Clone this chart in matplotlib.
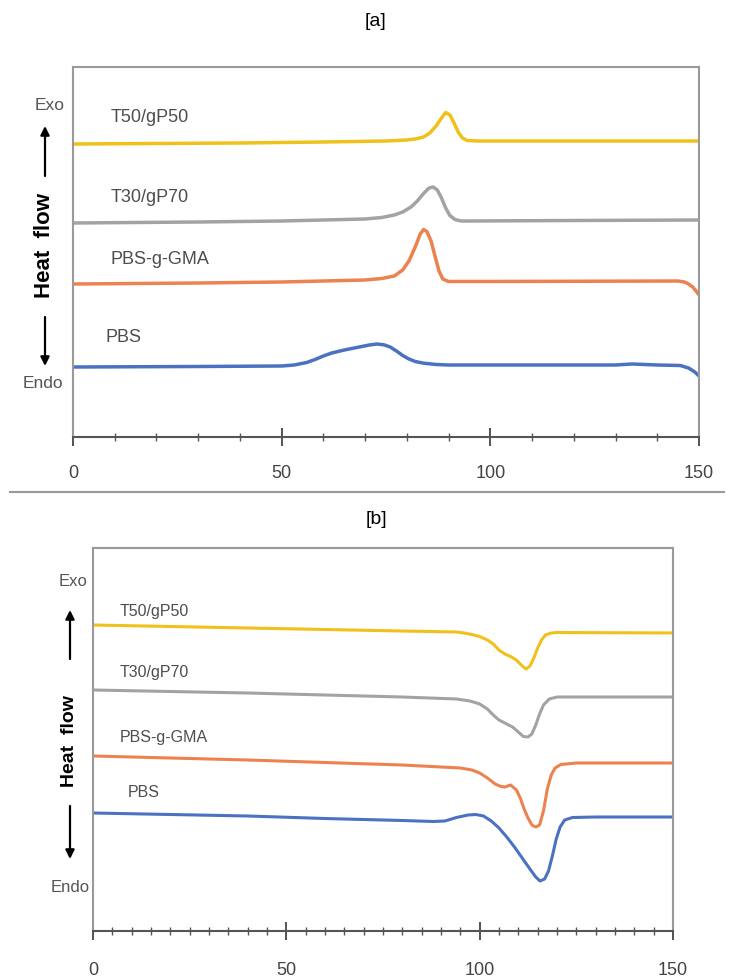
import numpy as np
import matplotlib
matplotlib.use("Agg")
from matplotlib import pyplot as plt
from matplotlib.lines import Line2D
from matplotlib.patches import FancyArrowPatch
from matplotlib.ticker import MultipleLocator

plt.rcParams['font.family'] = ['Liberation Sans', 'DejaVu Sans']

# ---- data (temperature in C, heat flow in arbitrary units) ----
series_names = ["T50/gP50", "T30/gP70", "PBS-g-GMA", "PBS"]
colors = ["#EFC11A", "#A3A3A3", "#EC8250", "#4A72C0"]

# [a] cooling
a_t50_T = [0, 20, 40, 60, 75, 80, 82, 84, 85.5, 87, 88.3, 89.3, 90.3, 91.3, 92.3, 93.3, 94.5, 97, 120, 150]
a_t50_H = [29.3, 29.35, 29.4, 29.5, 29.6, 29.7, 29.8, 30.0, 30.4, 31.1, 31.9, 32.45, 32.2, 31.4, 30.5, 29.9, 29.65, 29.6, 29.6, 29.6]
a_t30_T = [0, 30, 50, 70, 74, 77, 79, 81, 82.5, 84, 85.3, 86.3, 87.3, 88.3, 89.3, 90.3, 91.5, 93, 95, 120, 150]
a_t30_H = [21.4, 21.5, 21.6, 21.8, 21.95, 22.2, 22.5, 23.0, 23.6, 24.35, 24.9, 25.0, 24.7, 23.9, 22.9, 22.15, 21.75, 21.6, 21.6, 21.65, 21.7]
a_gma_T = [0, 30, 50, 70, 74, 77, 79, 80.5, 82, 83.2, 84, 84.8, 85.8, 86.8, 87.7, 88.6, 90, 100, 145, 146.5, 147.5, 148.5, 149.3, 150]
a_gma_H = [15.3, 15.4, 15.5, 15.7, 15.85, 16.1, 16.7, 17.6, 19.0, 20.3, 20.75, 20.55, 19.6, 18.0, 16.6, 15.8, 15.55, 15.55, 15.6, 15.5, 15.3, 15.0, 14.6, 14.2]
a_pbs_T = [0, 30, 50, 53, 56, 58, 60, 62, 65, 68, 71, 72.8, 74.5, 76, 77.5, 79, 80.5, 82, 84, 87, 90, 100, 130, 134, 140, 145.5, 147.5, 149, 150]
a_pbs_H = [7.0, 7.05, 7.1, 7.2, 7.45, 7.75, 8.1, 8.4, 8.7, 8.95, 9.2, 9.3, 9.22, 9.0, 8.6, 8.15, 7.8, 7.55, 7.38, 7.25, 7.2, 7.2, 7.2, 7.3, 7.2, 7.15, 6.9, 6.5, 6.1]

# [b] heating
b_t50_T = [0, 20, 40, 60, 80, 94, 96, 98, 100, 102, 103.5, 105, 106.5, 108, 109.5, 111, 112, 113, 114, 115, 116, 117, 118.5, 120, 150]
b_t50_H = [30.6, 30.45, 30.3, 30.15, 30.0, 29.9, 29.8, 29.65, 29.45, 29.1, 28.7, 28.1, 27.7, 27.45, 27.1, 26.5, 26.2, 26.5, 27.3, 28.3, 29.1, 29.6, 29.8, 29.85, 29.8]
b_t30_T = [0, 20, 40, 60, 80, 94, 97.5, 100, 102, 103.5, 105, 107, 108.5, 110, 111.3, 112.5, 113.5, 114.5, 115.5, 116.5, 118, 120, 150]
b_t30_H = [24.1, 23.95, 23.8, 23.6, 23.4, 23.2, 23.0, 22.7, 22.2, 21.6, 21.1, 20.7, 20.4, 19.9, 19.45, 19.4, 19.7, 20.6, 21.7, 22.6, 23.2, 23.4, 23.4]
b_gma_T = [0, 20, 40, 60, 80, 95, 98, 100, 102, 104, 105.5, 106.5, 108, 109.5, 110.5, 111.5, 112.5, 113.5, 114.5, 115.5, 116.5, 117.5, 118.5, 119.5, 121, 125, 150]
b_gma_H = [17.5, 17.3, 17.1, 16.85, 16.6, 16.3, 16.1, 15.8, 15.3, 14.7, 14.45, 14.4, 14.6, 14.1, 13.3, 12.2, 11.3, 10.6, 10.4, 10.6, 12.0, 14.2, 15.6, 16.3, 16.65, 16.8, 16.8]
b_pbs_T = [0, 20, 40, 60, 80, 88, 91, 94, 97, 99, 101, 103, 105, 107, 109, 111, 113, 114.5, 115.6, 116.8, 117.8, 118.8, 119.8, 120.8, 122, 124, 130, 150]
b_pbs_H = [11.8, 11.65, 11.5, 11.25, 11.05, 10.95, 11.0, 11.35, 11.6, 11.65, 11.5, 11.0, 10.3, 9.4, 8.4, 7.3, 6.2, 5.4, 5.0, 5.2, 6.0, 7.5, 9.2, 10.4, 11.1, 11.35, 11.4, 11.4]

xticks = [0, 50, 100, 150]

W, H = 734, 978
fig = plt.figure(figsize=(W / 100, H / 100), dpi=100)

def fx(px):
    return px / W

def fy(py):
    return 1 - py / H

def make_axes(left, right, top, bottom, ytop, minor, lab_size, pad):
    ax = fig.add_axes([fx(left), fy(bottom), fx(right) - fx(left), fy(top) - fy(bottom)])
    ax.set_xlim(0, 150)
    ax.set_ylim(0, ytop)
    ax.set_yticks([])
    ax.set_xticks(xticks)
    ax.xaxis.set_minor_locator(MultipleLocator(minor))
    for s in ['left', 'top', 'right']:
        ax.spines[s].set_color('#9a9a9a')
        ax.spines[s].set_linewidth(1.5)
    ax.spines['bottom'].set_color('#555555')
    ax.spines['bottom'].set_linewidth(1.5)
    ax.tick_params(axis='x', which='major', direction='inout', length=13, width=1.3,
                   color='#444444', labelsize=lab_size, labelcolor='#444444', pad=pad)
    ax.tick_params(axis='x', which='minor', direction='inout', length=6, width=1.0, color='#555555')
    return ax

# panel a
ax1 = make_axes(73, 699, 68, 438, 37.0, 10, 13, 13)
for T, Hf, c in zip([a_t50_T, a_t30_T, a_gma_T, a_pbs_T], [a_t50_H, a_t30_H, a_gma_H, a_pbs_H], colors):
    ax1.plot(T, Hf, color=c, lw=2.5, solid_capstyle='round', solid_joinstyle='round')
a_lab = [(8.9, 32.1), (8.9, 24.1), (8.9, 17.8), (7.7, 10.0)]
for name, (lx, ly) in zip(series_names, a_lab):
    ax1.text(lx, ly, name, fontsize=13, color='#4d4d4d', va='center', ha='left')

# panel b
ax2 = make_axes(93, 673, 549, 932, 38.3, 5, 13, 15)
for T, Hf, c in zip([b_t50_T, b_t30_T, b_gma_T, b_pbs_T], [b_t50_H, b_t30_H, b_gma_H, b_pbs_H], colors):
    ax2.plot(T, Hf, color=c, lw=2.2, solid_capstyle='round', solid_joinstyle='round')
b_lab = [(7.0, 32.0), (7.0, 25.9), (7.0, 19.4), (9.1, 13.9)]
for name, (lx, ly) in zip(series_names, b_lab):
    ax2.text(lx, ly, name, fontsize=11.5, color='#4d4d4d', va='center', ha='left')

# titles
fig.text(fx(376), fy(22), "[a]", fontsize=14, ha='center', va='center', color='black')
fig.text(fx(376), fy(520), "[b]", fontsize=14, ha='center', va='center', color='black')

# separator line
fig.add_artist(Line2D([fx(10), fx(724)], [fy(493), fy(493)], color='#999999', lw=1.5))

# y-axis annotations
def heat_axis(x, exo_y, exo_x, endo_y, endo_x, up, text_y, down, fs_side, fs_heat):
    fig.text(fx(exo_x), fy(exo_y), "Exo", fontsize=fs_side, color='#555555', ha='right', va='center')
    fig.text(fx(endo_x), fy(endo_y), "Endo", fontsize=fs_side, color='#555555', ha='right', va='center')
    fig.text(fx(x), fy(text_y), "Heat  flow", fontsize=fs_heat, fontweight='bold', rotation=90,
             ha='center', va='center', color='black')
    ap = dict(arrowstyle='-|>', lw=1.6, color='black', mutation_scale=13, shrinkA=0, shrinkB=0)
    fig.add_artist(FancyArrowPatch((fx(x), fy(up[0])), (fx(x), fy(up[1])),
                   transform=fig.transFigure, **ap))
    fig.add_artist(FancyArrowPatch((fx(x), fy(down[0])), (fx(x), fy(down[1])),
                   transform=fig.transFigure, **ap))

heat_axis(45, 105, 65, 383, 63, (177, 127), 246, (318, 367), 12.5, 16)
heat_axis(70, 582, 87, 888, 90, (660, 611), 741, (807, 860), 12, 14)

fig.savefig("out.png", dpi=100, facecolor='white')
